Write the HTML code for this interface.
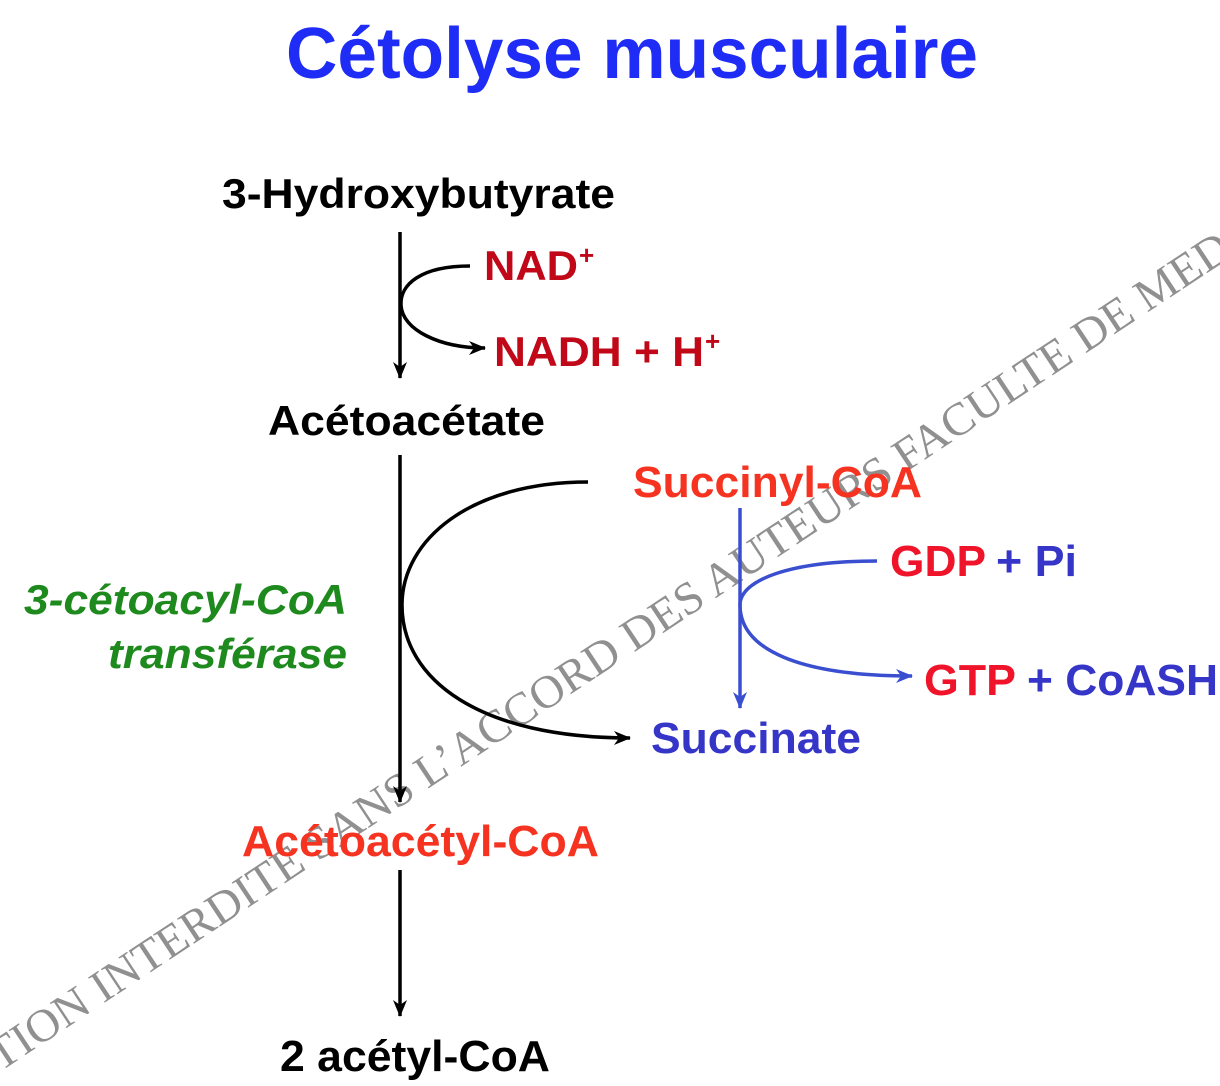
<!DOCTYPE html>
<html><head><meta charset="utf-8"><style>
html,body{margin:0;padding:0;background:#fff;}
svg{display:block;}
text{font-family:"Liberation Sans",Arial,sans-serif;font-weight:bold;}
</style></head><body>
<svg width="1220" height="1086" viewBox="0 0 1220 1086" xmlns="http://www.w3.org/2000/svg">
<defs>
<marker id="ah" viewBox="0 0 18 14" refX="16" refY="7" markerWidth="18" markerHeight="14" orient="auto" markerUnits="userSpaceOnUse"><path d="M0,0 L17,7 L0,14 L5,7 Z" fill="#000"/></marker>
<marker id="ahb" viewBox="0 0 18 14" refX="16" refY="7" markerWidth="18" markerHeight="14" orient="auto" markerUnits="userSpaceOnUse"><path d="M0,0 L17,7 L0,14 L5,7 Z" fill="#3a4fd0"/></marker>
</defs>

<text x="286" y="78" font-size="72" fill="#1f2cf5" textLength="692" lengthAdjust="spacingAndGlyphs">Cétolyse musculaire</text>

<!-- watermark -->
<text x="0" y="1072" font-size="46" fill="#909090" style="font-family:'Liberation Serif',serif;font-weight:normal" transform="rotate(-33.5 0 1072)" textLength="1480" lengthAdjust="spacingAndGlyphs">TION INTERDITE SANS L’ACCORD DES AUTEURS FACULTE DE MED</text>

<!-- black arrows -->
<line x1="400" y1="232" x2="400" y2="378" stroke="#000" stroke-width="3.5" marker-end="url(#ah)"/>
<path d="M470,266 C420,266 400,285 401,305 C402,330 440,348 485,348" fill="none" stroke="#000" stroke-width="3.5" marker-end="url(#ah)"/>
<line x1="400" y1="455" x2="400" y2="802" stroke="#000" stroke-width="3.5" marker-end="url(#ah)"/>
<path d="M588,482 C470,482 402,540 402,605 C402,680 480,738 630,738" fill="none" stroke="#000" stroke-width="3.5" marker-end="url(#ah)"/>
<line x1="400" y1="870" x2="400" y2="1016" stroke="#000" stroke-width="3.5" marker-end="url(#ah)"/>

<!-- blue arrows -->
<line x1="740" y1="508" x2="740" y2="708" stroke="#3a4fd0" stroke-width="3.5" marker-end="url(#ahb)"/>
<path d="M877,561 C790,561 740,580 740,605 C740,650 800,676 912,676" fill="none" stroke="#3a4fd0" stroke-width="3.5" marker-end="url(#ahb)"/>

<!-- labels -->
<text x="222" y="208" font-size="42" fill="#000" textLength="393" lengthAdjust="spacingAndGlyphs">3-Hydroxybutyrate</text>
<text x="484" y="280" font-size="42" fill="#c00818" textLength="94" lengthAdjust="spacingAndGlyphs">NAD</text>
<text x="579" y="264" font-size="26" fill="#c00818">+</text>
<text x="494" y="366" font-size="42" fill="#c00818" textLength="210" lengthAdjust="spacingAndGlyphs">NADH + H</text>
<text x="705" y="350" font-size="26" fill="#c00818">+</text>
<text x="268" y="435" font-size="42" fill="#000" textLength="277" lengthAdjust="spacingAndGlyphs">Acétoacétate</text>
<text x="633" y="497" font-size="44" fill="#f53320" textLength="289" lengthAdjust="spacingAndGlyphs">Succinyl-CoA</text>
<text x="890" y="576" font-size="44" fill="#f0142a" textLength="96" lengthAdjust="spacingAndGlyphs">GDP</text>
<text x="996" y="576" font-size="44" fill="#3535c8" textLength="81" lengthAdjust="spacingAndGlyphs">+ Pi</text>
<text x="24" y="614" font-size="42" fill="#1e8a1e" font-style="italic" textLength="323" lengthAdjust="spacingAndGlyphs">3-cétoacyl-CoA</text>
<text x="108" y="668" font-size="42" fill="#1e8a1e" font-style="italic" textLength="239" lengthAdjust="spacingAndGlyphs">transférase</text>
<text x="924" y="695" font-size="44" fill="#f0142a" textLength="92" lengthAdjust="spacingAndGlyphs">GTP</text>
<text x="1027" y="695" font-size="44" fill="#3535c8" textLength="191" lengthAdjust="spacingAndGlyphs">+ CoASH</text>
<text x="651" y="753" font-size="44" fill="#3535c8" textLength="210" lengthAdjust="spacingAndGlyphs">Succinate</text>
<text x="242" y="856" font-size="44" fill="#f53320" textLength="357" lengthAdjust="spacingAndGlyphs">Acétoacétyl-CoA</text>
<text x="280" y="1071" font-size="44" fill="#000" textLength="270" lengthAdjust="spacingAndGlyphs">2 acétyl-CoA</text>
</svg>
</body></html>
